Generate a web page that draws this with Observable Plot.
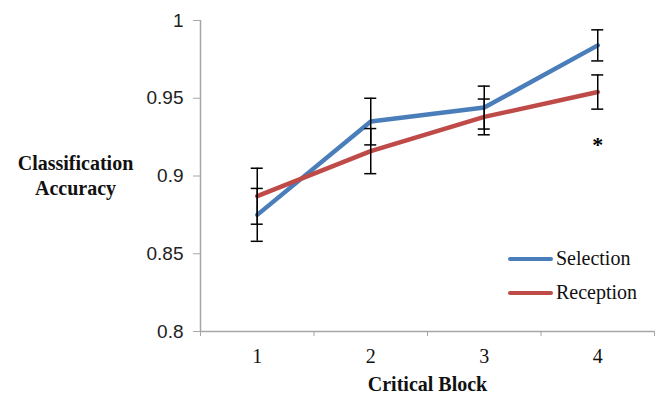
<!DOCTYPE html>
<html>
<head>
<meta charset="utf-8">
<script src="https://cdn.jsdelivr.net/npm/d3@7"></script>
<script src="https://cdn.jsdelivr.net/npm/@observablehq/plot@0.6"></script>
<style>
  html, body { margin: 0; padding: 0; background: #fff; }
  #wrap { position: relative; width: 657px; height: 397px; }
  .leg { position: absolute; left: 508px; display: flex; align-items: center; }
  .leg span.sw { display: inline-block; width: 45px; height: 4px; border-radius: 2px; margin-right: 3px; }
</style>
</head>
<body>
<div id="wrap"></div>
<script>
// ---- data ----
const blocks = [1, 2, 3, 4];
const seriesNames = ["Selection", "Reception"];
const selection = [0.875, 0.935, 0.944, 0.984];
const selectionErr = [0.017, 0.015, 0.0138, 0.010];
const reception = [0.887, 0.916, 0.938, 0.954];
const receptionErr = [0.018, 0.0145, 0.0115, 0.011];
const yTicks = [0.8, 0.85, 0.9, 0.95, 1];
const xTickLabels = ["1", "2", "3", "4"];
const annotations = [{block: 4, value: 0.92, label: "*"}];

// ---- styles ----
const colors = {Selection: "#4a7ebb", Reception: "#be4b48"};
const axisGray = "#a6a6a6";
const capHalf = 0.053;
const serif = "'Liberation Serif', 'Times New Roman', serif";

const rows = [];
blocks.forEach((b, i) => {
  rows.push({series: "Selection", block: b, value: selection[i], err: selectionErr[i]});
  rows.push({series: "Reception", block: b, value: reception[i], err: receptionErr[i]});
});

const chart = Plot.plot({
  width: 657,
  height: 397,
  marginLeft: 200,
  marginRight: 3,
  marginTop: 20,
  marginBottom: 66,
  style: {background: "#fff", overflow: "visible"},
  x: {domain: [0.5, 4.5]},
  y: {domain: [0.8, 1]},
  marks: [
    Plot.axisY({ticks: yTicks, tickFormat: d => String(d), tickSize: 7, tickPadding: 10,
      stroke: axisGray, fill: "#222", fontSize: 19, fontFamily: "'Liberation Sans', Arial, sans-serif", label: null}),
    Plot.axisX({ticks: [0.5, 1.5, 2.5, 3.5, 4.5], tickSize: 5, tickFormat: () => "", stroke: axisGray, label: null}),
    Plot.axisX({ticks: blocks, tickSize: 0, tickPadding: 17, tickFormat: (d, i) => xTickLabels[i],
      fill: "#111", fontSize: 20, fontFamily: serif, label: null}),
    Plot.ruleX([0.5], {stroke: axisGray, strokeWidth: 1.5}),
    Plot.ruleY([0.8], {stroke: axisGray, strokeWidth: 1.5}),
    Plot.line(rows, {x: "block", y: "value", z: "series", stroke: d => colors[d.series], strokeWidth: 4.5}),
    Plot.ruleX(rows, {x: "block", y1: d => d.value - d.err, y2: d => d.value + d.err, stroke: "#000", strokeWidth: 1.5}),
    Plot.ruleY(rows, {y: d => d.value - d.err, x1: d => d.block - capHalf, x2: d => d.block + capHalf, stroke: "#000", strokeWidth: 1.5}),
    Plot.ruleY(rows, {y: d => d.value + d.err, x1: d => d.block - capHalf, x2: d => d.block + capHalf, stroke: "#000", strokeWidth: 1.5}),
    Plot.text(annotations, {x: "block", y: "value", text: "label", fontSize: 22, fontWeight: "bold", fontFamily: serif, fill: "#000"}),
    Plot.text(["Classification\nAccuracy"], {frameAnchor: "left", dx: -125, dy: -2, textAnchor: "middle", lineHeight: 1.25,
      fontSize: 20, fontWeight: "bold", fontFamily: serif, fill: "#111"}),
    Plot.text(["Critical Block"], {frameAnchor: "bottom", dy: 59, textAnchor: "middle",
      fontSize: 20, fontWeight: "bold", fontFamily: serif, fill: "#111"})
  ]
});

const wrap = document.getElementById("wrap");
wrap.appendChild(chart);
seriesNames.forEach((name, i) => {
  const d = document.createElement("div");
  d.className = "leg";
  d.style.top = (i === 0 ? 247 : 281) + "px";
  d.style.fontFamily = serif;
  d.style.fontSize = "20px";
  d.style.color = "#111";
  d.innerHTML = `<span class="sw" style="background:${colors[name]}"></span><span style="font-family:${serif};font-size:20px">${name}</span>`;
  wrap.appendChild(d);
});
</script>
</body>
</html>
